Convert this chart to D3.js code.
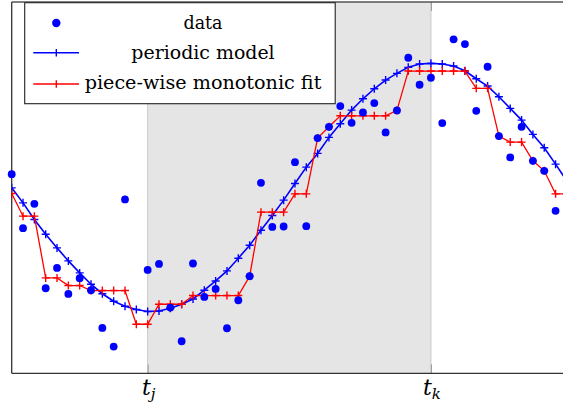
<!DOCTYPE html>
<html><head><meta charset="utf-8">
<script src="https://cdn.jsdelivr.net/npm/d3@7"></script>
<style>html,body{margin:0;padding:0;background:#fff;overflow:hidden}
svg text{font-family:"DejaVu Serif",serif}</style>
</head><body><svg id="c" width="563" height="408"></svg>
<script>
// ---- data (time index, values in arbitrary units) ----
const timeIdx = [0,1,2,3,4,5,6,7,8,9,10,11,12,13,14,15,16,17,18,19,20,21,22,23,24,25,26,27,28,29,30,31,32,33,34,35,36,37,38,39,40,41,42,43,44,45,46,47,48,49];
const dataVals = [199,145,169.3,85,105.3,79.3,95,83,45.3,26.7,173.7,-5.3,103.3,109.3,65.7,32,109.7,76.3,84.3,45,73,97,190.3,146.3,146.7,211,147,235,246.3,267,250.3,260.7,270,240.7,262.7,315.3,288.3,295.3,250,333.7,329,262.3,306.3,237,215.7,246.3,212.3,202.3,162.3,196.3];
const modelVals = [185.3,170.3,153.7,139,125.3,112.3,100.3,89,79.5,72,67,63.7,61.7,62.3,65,69,74.3,83,92.3,102.3,115,128,143,157.7,173,189.7,206,219.7,235.7,249.3,263,274.3,284.3,293,299.7,305.7,309,309.7,309,307,302.3,294.3,287,276.3,264.7,253,238.7,225.3,209,192];
const fitVals = [179.7,157,157,95.3,95.3,87.7,87.7,82.7,82.7,82.7,82.7,49,49,69,69,69,77.7,77.7,77.7,77.7,77.7,97,161,161,161,179.3,179.3,235,246.3,257.3,257.3,257.3,257.3,257.3,262.7,302,302,302,302,302,302,284.7,284.7,237,231,231,212.3,202.3,179.3,179.3];
const tickVals = [12, 37];
const tickMain = ["t", "t"];
const tickSub = ["j", "k"];
const legendLabels = ["data", "periodic model", "piece-wise monotonic fit"];
const yDomain = [0, 371];

// ---- layout ----
const svg = d3.select("#c");
const L = 11.7, B = 373.3, T = 2, R = 566.9;
const x = d3.scaleLinear().domain([0, 49]).range([L, R]);
const y = d3.scaleLinear().domain(yDomain).range([B, T]);
const blue = "#0000ff", red = "#ff0000";
const plusPath = "M-4,0H4M0,-4V4";

svg.append("defs").append("clipPath").attr("id", "clip")
  .append("rect").attr("x", L).attr("y", T).attr("width", 600).attr("height", B - T);

// shaded interval
svg.append("rect").attr("x", x(tickVals[0])).attr("y", T)
  .attr("width", x(tickVals[1]) - x(tickVals[0])).attr("height", B - T)
  .attr("fill", "#e5e5e5");
svg.selectAll("line.bd").data(tickVals).join("line").attr("class", "bd")
  .attr("x1", d => x(d)).attr("x2", d => x(d)).attr("y1", T).attr("y2", B)
  .attr("stroke", "#c9c9c9").attr("stroke-width", 1);

// tick marks via axes (inward)
const axB = svg.append("g").attr("transform", `translate(0,${B})`)
  .call(d3.axisBottom(x).tickValues(tickVals).tickSize(-9).tickFormat(() => ""));
const axT = svg.append("g").attr("transform", `translate(0,${T})`)
  .call(d3.axisTop(x).tickValues(tickVals).tickSize(-9).tickFormat(() => ""));
[axB, axT].forEach(g => {
  g.select(".domain").remove();
  g.selectAll(".tick line").attr("stroke", "#999").attr("stroke-width", 1);
});

// frame
svg.append("line").attr("x1", L).attr("x2", 563).attr("y1", B).attr("y2", B).attr("stroke", "#333").attr("stroke-width", 1.3);
svg.append("line").attr("x1", L).attr("x2", 563).attr("y1", T).attr("y2", T).attr("stroke", "#555").attr("stroke-width", 1.3);
svg.append("line").attr("x1", L).attr("x2", L).attr("y1", T).attr("y2", B).attr("stroke", "#333").attr("stroke-width", 1.3);

// tick labels
tickVals.forEach((v, i) => {
  const t = svg.append("text").attr("x", x(v) + 1).attr("y", 395).attr("text-anchor", "middle")
    .style("font-style", "italic").style("font-size", "22px").attr("fill", "#000");
  t.append("tspan").text(tickMain[i]);
  t.append("tspan").style("font-size", "15px").attr("dy", 4).text(tickSub[i]);
});

const plot = svg.append("g").attr("clip-path", "url(#clip)");
const pts = timeIdx.map((t, i) => ({ t, d: dataVals[i], m: modelVals[i], f: fitVals[i] }));

// data dots
svg.append("g").selectAll("circle")
  .data(pts.filter(p => p.d >= yDomain[0] && p.d <= yDomain[1] && p.t <= 49))
  .join("circle").attr("cx", p => x(p.t)).attr("cy", p => y(p.d)).attr("r", 3.9).attr("fill", blue);

// periodic model
plot.append("path").datum(pts).attr("fill", "none").attr("stroke", blue).attr("stroke-width", 1.6)
  .attr("d", d3.line().x(p => x(p.t)).y(p => y(p.m)));
plot.append("g").selectAll("path").data(pts).join("path")
  .attr("transform", p => `translate(${x(p.t)},${y(p.m)})`).attr("d", plusPath)
  .attr("stroke", blue).attr("stroke-width", 1.4).attr("fill", "none");

// monotonic fit
plot.append("path").datum(pts).attr("fill", "none").attr("stroke", red).attr("stroke-width", 1.3)
  .attr("d", d3.line().x(p => x(p.t)).y(p => y(p.f)));
plot.append("g").selectAll("path").data(pts).join("path")
  .attr("transform", p => `translate(${x(p.t)},${y(p.f)})`).attr("d", plusPath)
  .attr("stroke", red).attr("stroke-width", 1.4).attr("fill", "none");

// legend
const lg = svg.append("g");
lg.append("rect").attr("x", 24.7).attr("y", 2.7).attr("width", 310.5).attr("height", 101)
  .attr("fill", "#fff").attr("stroke", "#222").attr("stroke-width", 1.1);
const rowsY = [23, 52.7, 84];
const baseY = [28.5, 59, 89];
const tLen = [39, 143.3, 236.7];
lg.append("circle").attr("cx", 56.3).attr("cy", rowsY[0]).attr("r", 4.2).attr("fill", blue);
[[blue, 1], [red, 2]].forEach(([c, r]) => {
  lg.append("line").attr("x1", 33.3).attr("x2", 79).attr("y1", rowsY[r]).attr("y2", rowsY[r])
    .attr("stroke", c).attr("stroke-width", 1.5);
  lg.append("path").attr("transform", `translate(56.3,${rowsY[r]})`).attr("d", "M0,-3.7V3.7")
    .attr("stroke", c).attr("stroke-width", 1.4);
});
legendLabels.forEach((s, i) => {
  lg.append("text").attr("x", 203).attr("y", baseY[i]).attr("text-anchor", "middle")
    .style("font-size", "18px").attr("fill", "#000")
    .attr("textLength", tLen[i]).attr("lengthAdjust", "spacingAndGlyphs").text(s);
});
</script></body></html>
